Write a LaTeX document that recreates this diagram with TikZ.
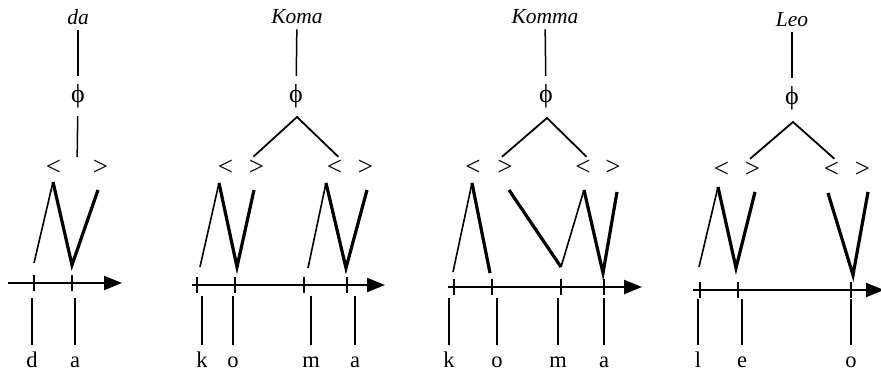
\documentclass[tikz,border=0pt]{standalone}
\usepackage{fontspec}
\setmainfont{Liberation Serif}
\usetikzlibrary{arrows.meta}

\begin{document}
\begin{tikzpicture}[x=1pt, y=-1pt,
		word/.style={font=\fontsize{21.5}{21.5}\selectfont\itshape, anchor=base, inner sep=1pt},
		phon/.style={font=\fontsize{26}{26}\selectfont, minimum height=40pt, inner sep=0pt},
		brk/.style={font=\fontsize{27}{27}\selectfont, minimum height=22pt, inner sep=0pt},
		seg/.style={font=\fontsize{22.5}{22.5}\selectfont, anchor=base, text height=21pt, text depth=0pt, inner sep=1pt},
		rise/.style={line width=1.6pt, line join=miter},
		fall/.style={line width=3.2pt, line join=miter},
		branch/.style={line width=1.8pt},
		link/.style={line width=1.5pt},
		axis/.style={line width=2.2pt, -{Triangle[length=18pt,width=14pt]}},
		tickmark/.style={line width=1.5pt}]
		
		\useasboundingbox (0,0) rectangle (881,374);
		
		% Words and feet
		\node[word] (w1) at (78,25) {da};
		\node[word] (w2) at (297,24) {Koma};
		\node[word] (w3) at (545,24) {Komma};
		\node[word] (w4) at (792,27) {Leo};
		
		\node[phon] (f1) at (78,96) {ϕ};
		\node[phon] (f2) at (296,96) {ϕ};
		\node[phon] (f3) at (546,96) {ϕ};
		\node[phon] (f4) at (792,98) {ϕ};
		
		\coordinate (top2) at (297,117);
		\coordinate (top3) at (547,118);
		\coordinate (top4) at (793,122);
		
		% Syllables
		\node[brk] (s1) at (77,168) {<\hspace{32pt}>};
		\node[brk] (s21) at (241,168) {<\hspace{16pt}>};
		\node[brk] (s22) at (350,168) {<\hspace{16pt}>};
		\node[brk] (s31) at (489,168) {<\hspace{17pt}>};
		\node[brk] (s32) at (598,168) {<\hspace{15pt}>};
		\node[brk] (s41) at (737,170) {<\hspace{16pt}>};
		\node[brk] (s42) at (847,170) {<\hspace{16pt}>};
		
		% Tree lines
		\draw[link, shorten <=4pt] (w1) -- (f1);
		\draw[link, shorten <=4pt] (w2) -- (f2);
		\draw[link, shorten <=4pt] (w3) -- (f3);
		\draw[link, shorten <=4pt] (w4) -- (f4);
		
		\draw[link] (f1) -- (s1);
		\draw[branch] (s21) -- (top2) -- (s22);
		\draw[branch] (s31) -- (top3) -- (s32);
		\draw[branch] (s41) -- (top4) -- (s42);
		
		% Sonority
		\draw[rise] (34,263) -- (53,182);
		\draw[fall] (53,182) -- (72,265) -- (98,190);
		
		\draw[rise] (200,267) -- (219,183);
		\draw[fall] (219,183) -- (237,267) -- (254,190);
		\draw[rise] (308,268) -- (326,183);
		\draw[fall] (326,183) -- (346,268) -- (367,190);
		
		\draw[rise] (453,272) -- (472,183);
		\draw[fall] (472,183) -- (490,273);
		\draw[fall] (509,190) -- (561,267);
		\draw[rise] (561,267) -- (584,190);
		\draw[fall] (584,190) -- (603,273) -- (617,192);
		
		\draw[rise] (699,267) -- (718,187);
		\draw[fall] (718,187) -- (736,268) -- (755,192);
		\draw[fall] (828,193) -- (853,275) -- (868,192);
		
		% Time axes
		\draw[axis] (8,283) -- (122,283);
		\draw[axis] (192,285) -- (385,285);
		\draw[axis] (448,287) -- (642,287);
		\draw[axis] (693,290) -- (884,290);
		
		\foreach \x in {34,72} \draw[tickmark] (\x,275) -- (\x,291);
		\foreach \x in {197,235,304,347} \draw[tickmark] (\x,277) -- (\x,293);
		\foreach \x in {454,492,561,604} \draw[tickmark] (\x,279) -- (\x,295);
		\foreach \x in {700,738,851} \draw[tickmark] (\x,282) -- (\x,298);
		
		% Segments
		\node[seg] (d1) at (32,367) {d};
		\node[seg] (a1) at (75,367) {a};
		\node[seg] (k2) at (202,367) {k};
		\node[seg] (o2) at (233,367) {o};
		\node[seg] (m2) at (311,367) {m};
		\node[seg] (a2) at (355,367) {a};
		\node[seg] (k3) at (449,367) {k};
		\node[seg] (o3) at (497,367) {o};
		\node[seg] (m3) at (558,367) {m};
		\node[seg] (a3) at (604,367) {a};
		\node[seg] (l4) at (698,367) {l};
		\node[seg] (e4) at (742,367) {e};
		\node[seg] (o4) at (851,367) {o};
		
		\coordinate (b1) at (0,298);
		\coordinate (b2) at (0,296);
		\coordinate (b3) at (0,298);
		\coordinate (b4) at (0,299);
		
		\foreach \s in {d1,a1} \draw[link] (\s.north) -- (\s.north |- b1);
		\foreach \s in {k2,o2,m2,a2} \draw[link] (\s.north) -- (\s.north |- b2);
		\foreach \s in {k3,o3,m3,a3} \draw[link] (\s.north) -- (\s.north |- b3);
		\foreach \s in {l4,e4,o4} \draw[link] (\s.north) -- (\s.north |- b4);
		
	\end{tikzpicture}
\end{document}
